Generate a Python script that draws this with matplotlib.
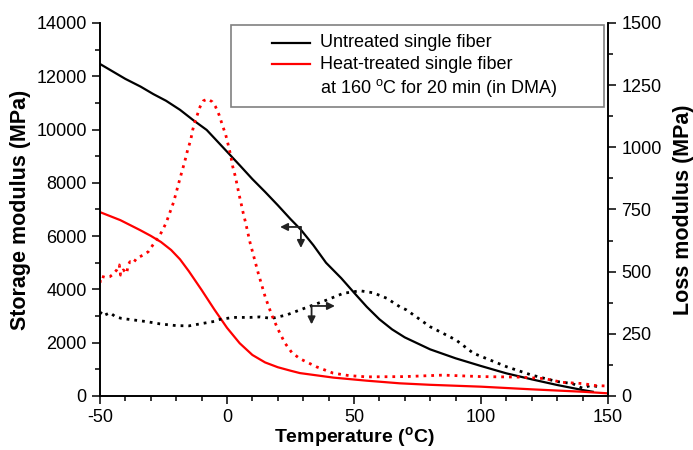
import numpy as np
import matplotlib
matplotlib.use("Agg")
import matplotlib.pyplot as plt
from matplotlib.ticker import MultipleLocator
from matplotlib.patches import Rectangle

plt.rcParams['font.family'] = ['Liberation Sans', 'DejaVu Sans']
plt.rcParams['mathtext.fontset'] = 'custom'
plt.rcParams['mathtext.rm'] = 'Liberation Sans'
plt.rcParams['mathtext.bf'] = 'Liberation Sans:bold'
plt.rcParams['axes.unicode_minus'] = False

# storage modulus, untreated (MPa)
T_su = [-50, -45, -40, -34, -29, -24, -18.5, -13.4, -8, -5, 0, 5, 10, 15, 20, 25, 29,
        34, 39, 45, 50, 55, 60, 65, 70, 80, 90, 100, 110, 120, 130, 140, 144]
E_su = [12460, 12180, 11900, 11610, 11330, 11080, 10740, 10360, 9985, 9680, 9170, 8660,
        8140, 7660, 7160, 6640, 6250, 5660, 5000, 4420, 3880, 3350, 2880, 2500, 2200,
        1750, 1415, 1126, 850, 625, 413, 225, 160]

# storage modulus, heat-treated (MPa)
T_sh = [-50, -42, -34.3, -30, -26, -22, -18.5, -15, -10, -5, 0, 5, 10, 15, 20, 25, 28.7,
        41.9, 55, 68, 80, 100, 120, 140, 150]
E_sh = [6900, 6600, 6230, 6010, 5780, 5480, 5130, 4680, 3980, 3250, 2560, 1980, 1540,
        1260, 1080, 950, 860, 690, 575, 476, 420, 350, 250, 160, 100]

# loss modulus, untreated (MPa)
T_lu = [-50, -49.3, -48, -46, -44, -41.5, -37, -31.6, -26.4, -20, -15, -10.6, -5, -2.8,
        2.5, 9, 13, 17.6, 23.5, 28.7, 34, 39.3, 45.8, 52.4, 57.6, 62.9, 68, 70.7, 79.9,
        90.2, 97, 103.5, 110, 120, 130, 136, 140, 143, 147]
L_lu = [330, 339, 326, 335, 319, 312, 306, 299, 290, 283, 282, 290, 300, 308, 316, 316,
        318, 312, 326, 346, 366, 386, 413, 423, 415, 393, 359, 346, 279, 225, 172, 145,
        118, 84, 58, 50, 31, 42, 37]

# loss modulus, heat-treated (MPa)
T_lh = [-50, -49.6, -48, -46.1, -44.8, -43.4, -42.4, -41.9, -40.8, -39.5, -38.9, -38.2,
        -36.9, -35.6, -34.3, -33, -31, -29.2, -26.5, -24, -21, -18.5, -17.2, -16.3, -15.5,
        -14.3, -13.5, -12.6, -11.7, -10.6, -9.3, -7.6, -5.8, -4.5, -3.1, -1.9, -0.5, 0.5,
        1.5, 2.2, 3.3, 4.0, 4.8, 5.5, 6.4, 7.4, 9, 12.3, 15, 17.6, 20, 22.8, 25.5, 28.7,
        35.3, 41.8, 48, 55, 70, 85, 100, 115, 125, 132, 140, 145, 150]
L_lh = [455, 482, 477, 480, 490, 507, 527, 486, 507, 493, 527, 540, 534, 554, 560, 567,
        580, 607, 645, 695, 780, 875, 922, 956, 989, 1029, 1070, 1103, 1130, 1163, 1187,
        1194, 1183, 1163, 1130, 1092, 1050, 1009, 965, 925, 882, 848, 808, 777, 735, 694,
        620, 494, 400, 326, 270, 213, 175, 150, 117, 92, 82, 77, 78, 84, 78, 76, 70, 55,
        50, 42, 40]

legend_labels = ["Untreated single fiber", "Heat-treated single fiber",
                 "at 160 $^{\\mathrm{o}}$C for 20 min (in DMA)"]

fig = plt.figure(figsize=(6.93, 4.5), dpi=100)
ax = fig.add_axes([0.1443, 0.12, 0.7330, 0.829])
ax2 = ax.twinx()

dot = (0, (1, 1.8))
ax.plot(T_su, E_su, color='black', lw=1.6)
ax.plot(T_sh, E_sh, color='#ff0000', lw=1.6)
ax2.plot(T_lu, L_lu, color='black', lw=2, ls=dot)
ax2.plot(T_lh, L_lh, color='#ff0000', lw=2, ls=dot)

ax.set_xlim(-50, 150)
ax.set_ylim(0, 14000)
ax2.set_ylim(0, 1500)
ax.xaxis.set_major_locator(MultipleLocator(50))
ax.xaxis.set_minor_locator(MultipleLocator(10))
ax.yaxis.set_major_locator(MultipleLocator(2000))
ax.yaxis.set_minor_locator(MultipleLocator(1000))
ax2.yaxis.set_major_locator(MultipleLocator(250))
ax2.yaxis.set_minor_locator(MultipleLocator(125))

for a in (ax, ax2):
    a.tick_params(which='major', direction='out', length=6, width=1.1, labelsize=13)
    a.tick_params(which='minor', direction='out', length=3.5, width=1.1)
    for s in a.spines.values():
        s.set_linewidth(1.2)
    a.spines['top'].set_visible(False)
ax.tick_params(axis='x', pad=3)

ax.set_xlabel("Temperature ($^{\\mathbf{o}}$C)", fontsize=14, fontweight='bold', labelpad=0)
ax.set_ylabel("Storage modulus (MPa)", fontsize=15.5, fontweight='bold', labelpad=4)
ax2.set_ylabel("Loss modulus (MPa)", fontsize=15.5, fontweight='bold', labelpad=8)

# arrows pointing to the axis of each curve pair
arr = dict(arrowstyle='-|>', color='#222222', lw=1.3, mutation_scale=11, shrinkA=0, shrinkB=0)
ax.annotate("", xy=(20.9, 6344), xytext=(29.1, 6344), arrowprops=arr)
ax.annotate("", xy=(29.1, 5556), xytext=(29.1, 6344), arrowprops=arr)
ax2.annotate("", xy=(42.5, 362), xytext=(33.3, 362), arrowprops=arr)
ax2.annotate("", xy=(33.3, 288), xytext=(33.3, 362), arrowprops=arr)

# legend box
ax2.add_patch(Rectangle((0.258, 0.775), 0.734, 0.22, transform=ax2.transAxes,
                        facecolor='white', edgecolor='#808080', lw=1.2, zorder=5))
ax2.plot([0.339, 0.4134], [0.947, 0.947], color='black', lw=1.6, transform=ax2.transAxes, zorder=6)
ax2.plot([0.339, 0.4134], [0.889, 0.889], color='#ff0000', lw=1.6, transform=ax2.transAxes, zorder=6)
for yy, lab in zip([0.947, 0.889, 0.825], legend_labels):
    ax2.text(0.433, yy, lab, transform=ax2.transAxes, fontsize=13, va='center', zorder=6)

fig.savefig("out.png", dpi=100)
